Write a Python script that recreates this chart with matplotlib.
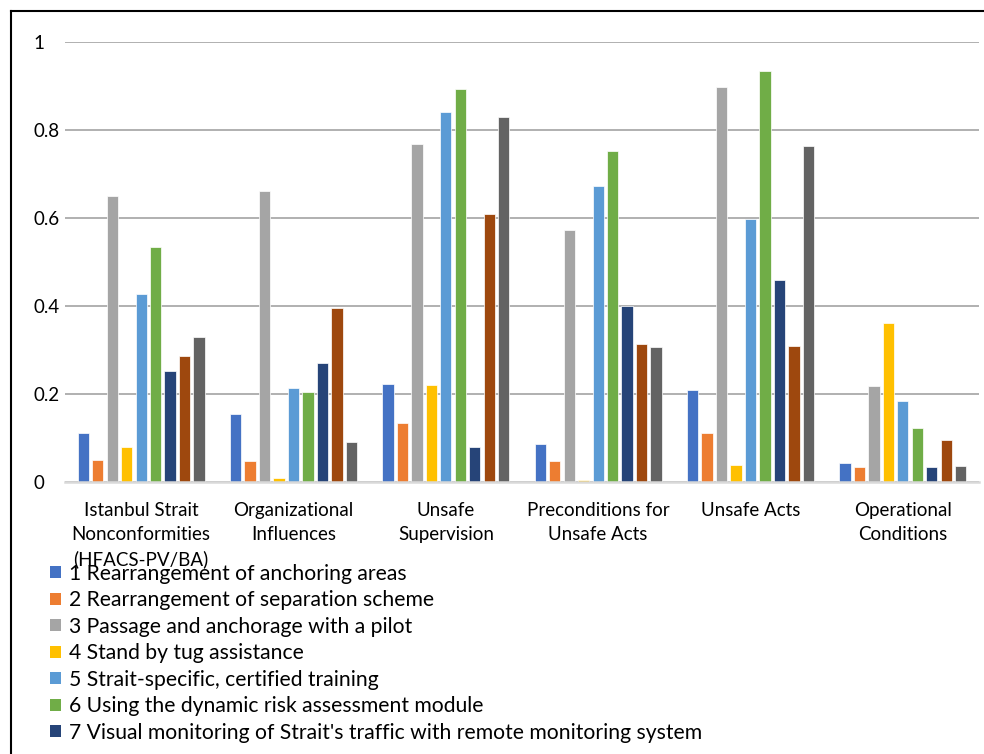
import matplotlib
matplotlib.use("Agg")
import matplotlib.pyplot as plt
from matplotlib.lines import Line2D
from matplotlib.patches import Patch
import numpy as np

plt.rcParams['font.family'] = ['Lato', 'DejaVu Sans']

categories = [
    "Istanbul Strait\nNonconformities\n(HFACS-PV/BA)",
    "Organizational\nInfluences",
    "Unsafe\nSupervision",
    "Preconditions for\nUnsafe Acts",
    "Unsafe Acts",
    "Operational\nConditions",
]

measure_names = [
    "1 Rearrangement of anchoring areas",
    "2 Rearrangement of separation scheme",
    "3 Passage and anchorage with a pilot",
    "4 Stand by tug assistance",
    "5 Strait-specific, certified training",
    "6 Using the dynamic risk assessment module",
    "7 Visual monitoring of Strait's traffic with remote monitoring system",
]

m1 = [0.110, 0.155, 0.223, 0.086, 0.208, 0.042]
m2 = [0.049, 0.048, 0.133, 0.048, 0.110, 0.033]
m3 = [0.650, 0.661, 0.769, 0.572, 0.897, 0.217]
m4 = [0.080, 0.008, 0.219, 0.004, 0.038, 0.362]
m5 = [0.426, 0.212, 0.840, 0.672, 0.598, 0.184]
m6 = [0.533, 0.205, 0.894, 0.752, 0.933, 0.122]
m7 = [0.251, 0.270, 0.078, 0.400, 0.458, 0.033]
m8 = [0.285, 0.396, 0.608, 0.313, 0.308, 0.095]
m9 = [0.330, 0.090, 0.830, 0.306, 0.763, 0.035]

series = [m1, m2, m3, m4, m5, m6, m7, m8, m9]
colors = ['#4472C4', '#ED7D31', '#A5A5A5', '#FFC000', '#5B9BD5',
          '#70AD47', '#264478', '#9E480E', '#636363']

fig = plt.figure(figsize=(9.84, 7.54), dpi=100)
ax = fig.add_axes([65 / 984, 1 - 481.7 / 754, 914 / 984, 439.7 / 754])

x = np.arange(len(categories))
pitch = 0.095
width = 0.074
for i, (vals, col) in enumerate(zip(series, colors)):
    ax.bar(x + (i - 4) * pitch, vals, width=width, color=col,
           edgecolor='white', linewidth=0.5, zorder=3)

ax.set_xlim(-0.5, len(categories) - 0.5)
ax.set_ylim(0, 1)
ax.set_yticks([0, 0.2, 0.4, 0.6, 0.8, 1.0])
ax.set_yticklabels(['0', '0.2', '0.4', '0.6', '0.8', '1'])
for lbl in ax.get_yticklabels():
    lbl.set_horizontalalignment('left')
ax.tick_params(axis='y', length=0, pad=23, labelsize=13.5)
ax.set_xticks(x)
ax.set_xticklabels(categories, fontsize=13.5, linespacing=1.5)
ax.tick_params(axis='x', length=0, pad=14.5)

ax.yaxis.grid(True, color='#b0b0b0', linewidth=1.4, zorder=0)
ax.set_axisbelow(True)
for side in ['top', 'right', 'left']:
    ax.spines[side].set_visible(False)
ax.spines['bottom'].set_color('#d9d9d9')
ax.spines['bottom'].set_linewidth(1.8)
ax.spines['bottom'].set_zorder(4)

handles = [Patch(facecolor=c) for c in colors[:7]]
fig.legend(handles, measure_names, loc='upper left',
           bbox_to_anchor=(50 / 984, 1 - 563.5 / 754), frameon=False,
           fontsize=15.2, handlelength=0.5, handleheight=0.5,
           handletextpad=0.4, labelspacing=0.31, borderpad=0,
           borderaxespad=0)

# outer frame
fig.add_artist(Line2D([11 / 984, 11 / 984], [0, 1 - 11 / 754],
                      transform=fig.transFigure, color='black', linewidth=1.5))
fig.add_artist(Line2D([11 / 984, 1], [1 - 11 / 754, 1 - 11 / 754],
                      transform=fig.transFigure, color='black', linewidth=1.5))

fig.savefig('out.png', dpi=100)
